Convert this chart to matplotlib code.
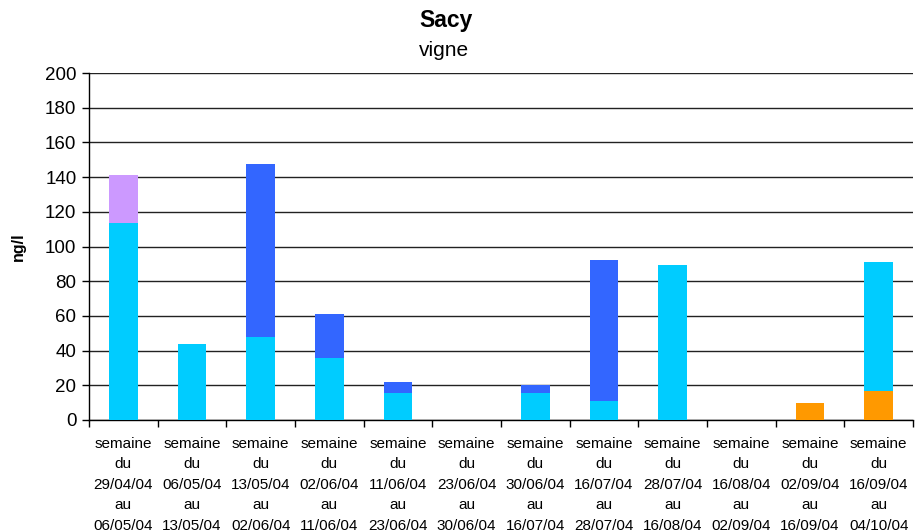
import matplotlib
matplotlib.use("Agg")
import matplotlib.pyplot as plt
import numpy as np

plt.rcParams['font.family'] = ['Liberation Sans', 'DejaVu Sans']

periods = ["29/04/04\nau\n06/05/04", "06/05/04\nau\n13/05/04", "13/05/04\nau\n02/06/04",
           "02/06/04\nau\n11/06/04", "11/06/04\nau\n23/06/04", "23/06/04\nau\n30/06/04",
           "30/06/04\nau\n16/07/04", "16/07/04\nau\n28/07/04", "28/07/04\nau\n16/08/04",
           "16/08/04\nau\n02/09/04", "02/09/04\nau\n16/09/04", "16/09/04\nau\n04/10/04"]
labels = ["semaine\ndu\n" + p for p in periods]

orange = [0, 0, 0, 0, 0, 0, 0, 0, 0, 0, 9.8, 16.7]
cyan = [113.4, 44, 48, 35.7, 15.5, 0, 15.5, 10.8, 89.5, 0, 0, 74.2]
blue = [0, 0, 99.4, 25.2, 6.5, 0, 4.5, 81.4, 0, 0, 0, 0]
purple = [27.8, 0, 0, 0, 0, 0, 0, 0, 0, 0, 0, 0]

series = [(orange, "#FF9900"), (cyan, "#00CCFF"), (blue, "#3366FF"), (purple, "#CC99FF")]

fig = plt.figure(figsize=(9.15, 5.32), dpi=100)
ax = fig.add_axes([89/915, 1 - 420/532, (913 - 89)/915, (420 - 73)/532])

x = np.arange(len(labels))
bottom = np.zeros(len(labels))
for vals, col in series:
    v = np.array(vals, dtype=float)
    ax.bar(x, v, width=0.42, bottom=bottom, color=col, edgecolor='none', zorder=3)
    bottom += v

ax.set_xlim(-0.5, len(labels) - 0.5)
ax.set_ylim(0, 200)
ax.set_yticks(range(0, 201, 20))
ax.tick_params(axis='y', labelsize=13.5, length=5, width=1, direction='out', pad=4)
ax.yaxis.grid(True, color='#222222', linewidth=1, zorder=0)

ax.set_xticks(x)
ax.set_xticklabels(labels, fontsize=11, linespacing=1.6)
ax.tick_params(axis='x', length=0, pad=12)
ax.set_xticks(np.arange(-0.5, len(labels), 1), minor=True)
ax.tick_params(axis='x', which='minor', length=5, width=1, direction='out')

for s in ['top', 'right']:
    ax.spines[s].set_visible(False)
for s in ['left', 'bottom']:
    ax.spines[s].set_color('black')
    ax.spines[s].set_linewidth(1)

ax.set_ylabel("ng/l", fontsize=11.5, fontweight='bold')
ax.yaxis.set_label_coords(-63/824, 0.5)

fig.text(446/915, 1 - 21/532, "Sacy", ha='center', va='center', fontsize=16.5, fontweight='bold')
fig.text(444/915, 1 - 51/532, "vigne", ha='center', va='center', fontsize=15,
         bbox=dict(facecolor='white', edgecolor='none', pad=7))

fig.savefig("out.png", dpi=100)
